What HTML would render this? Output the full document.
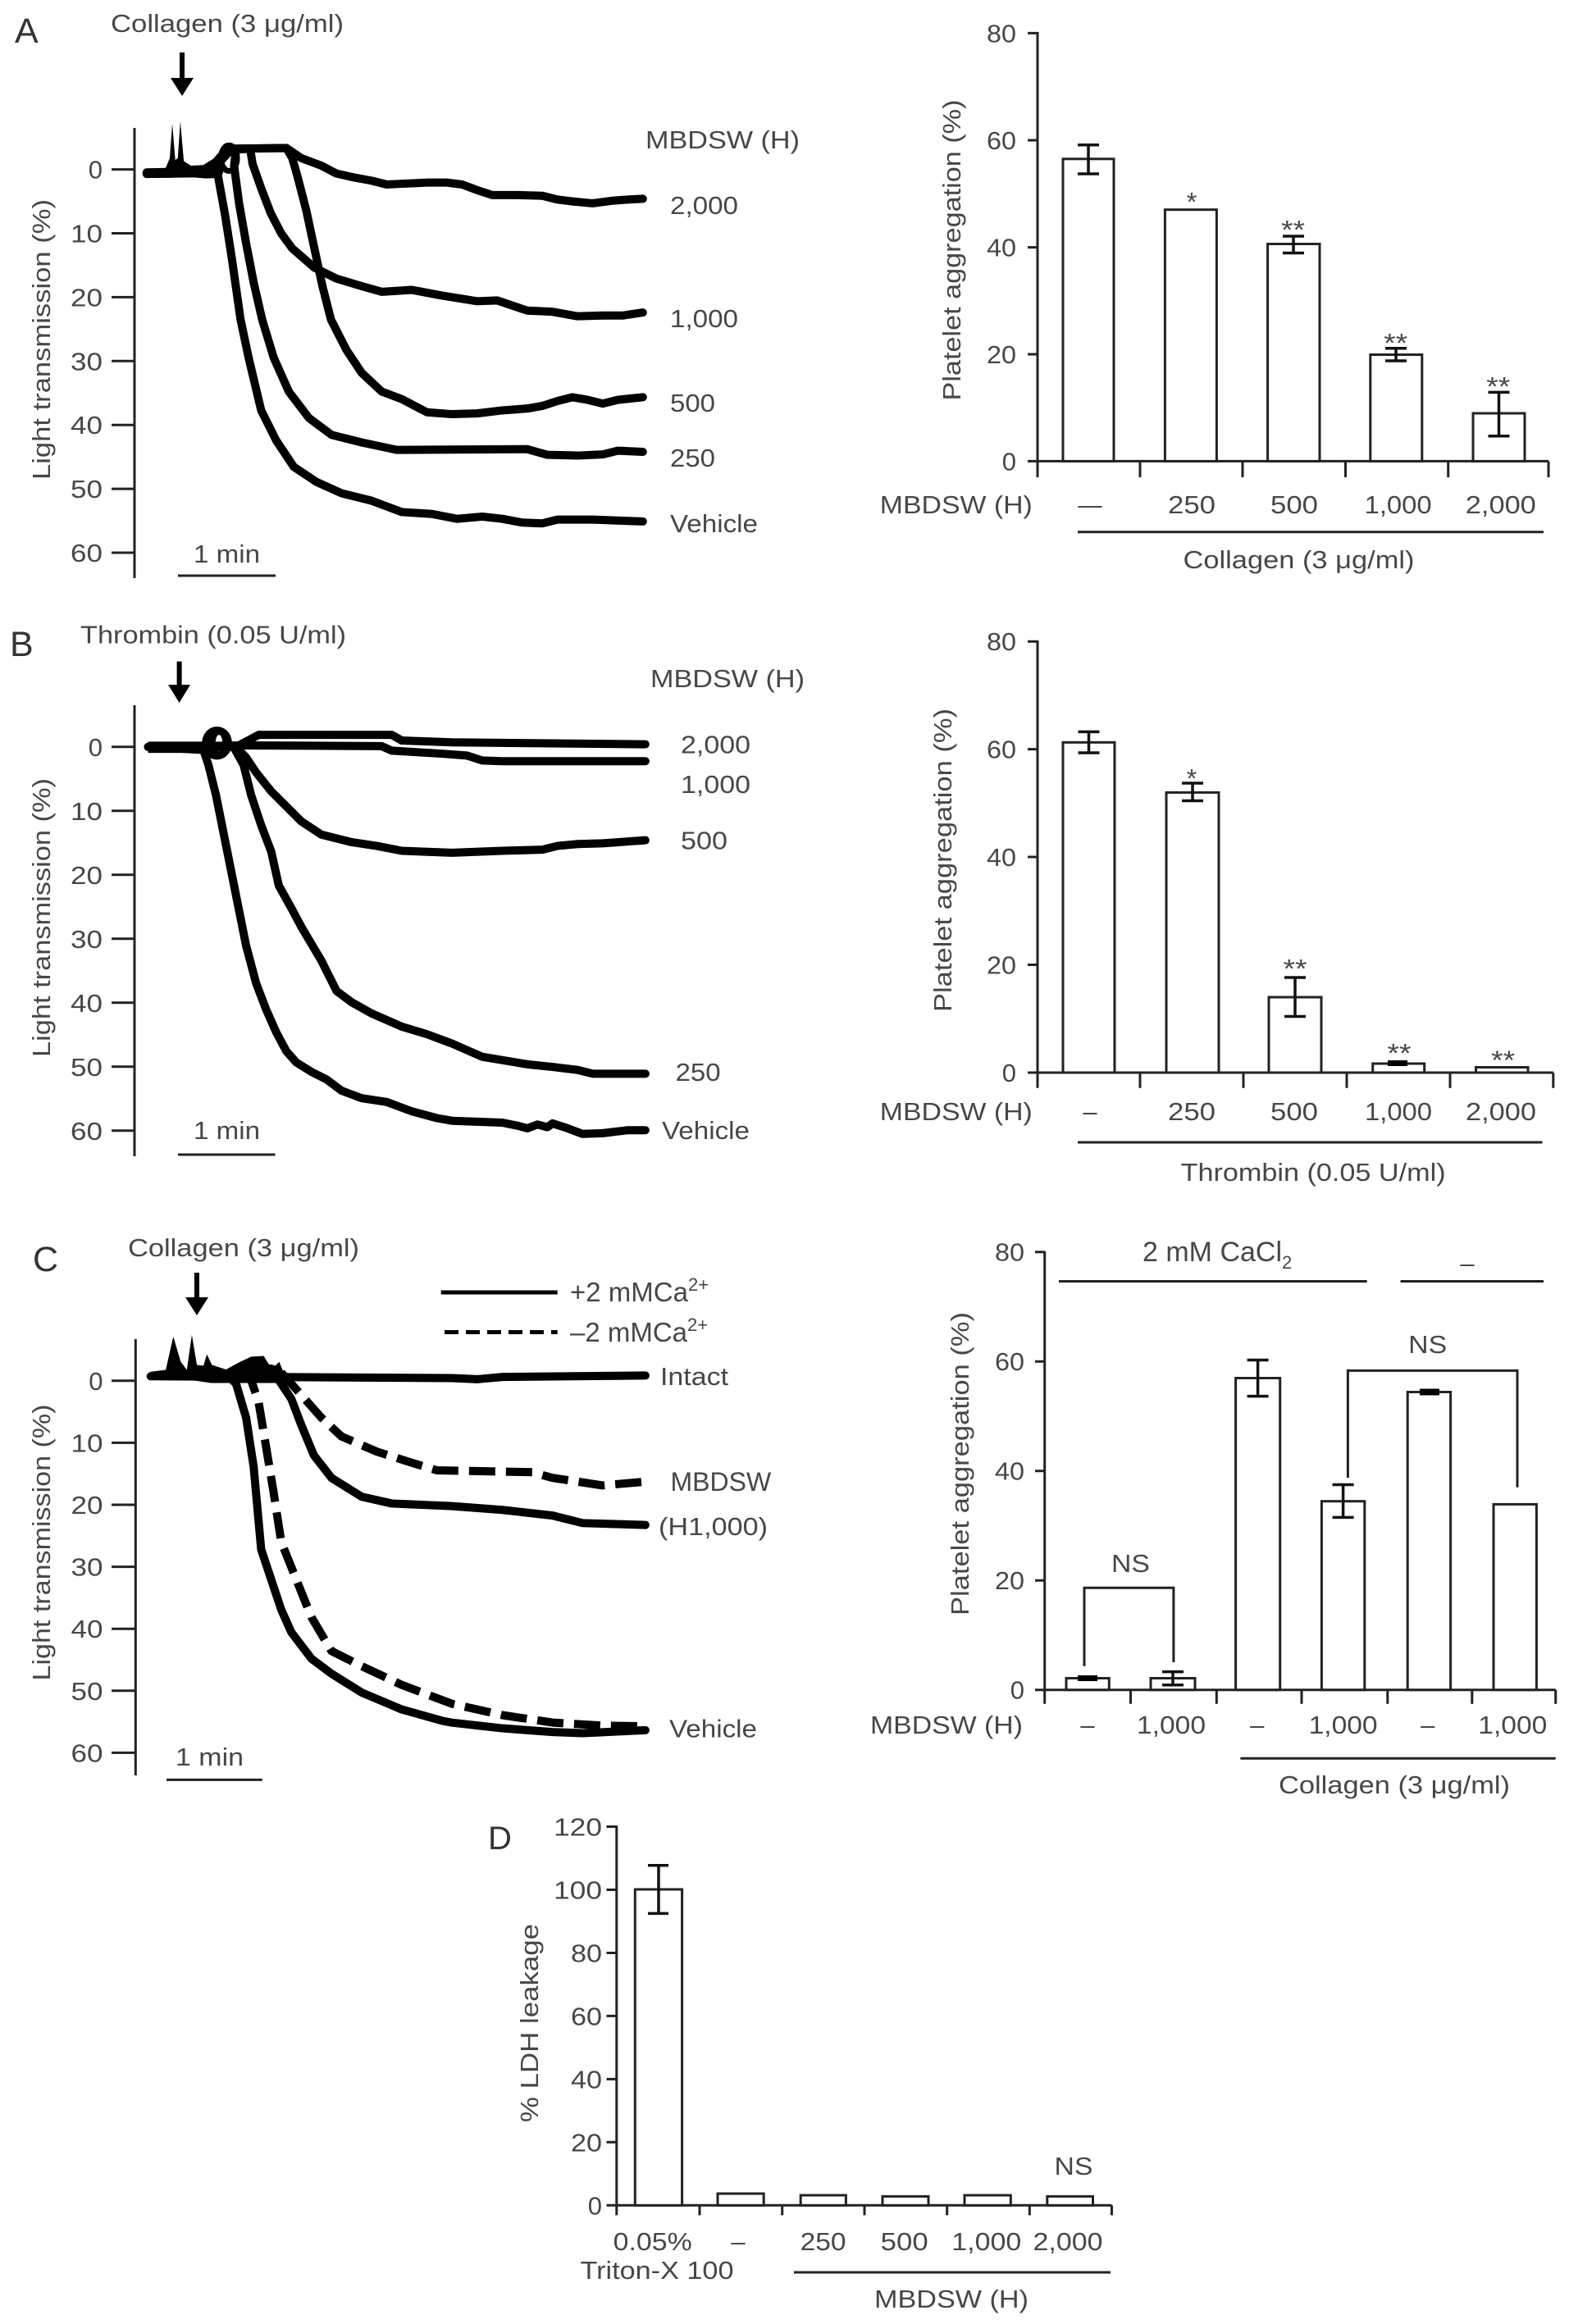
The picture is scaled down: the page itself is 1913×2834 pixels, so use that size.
<!DOCTYPE html>
<html><head><meta charset="utf-8"><style>
html,body{margin:0;padding:0;background:#fff;}
svg{display:block;}
text{font-family:"Liberation Sans",Arial,sans-serif;fill:#474747;font-size:31px;}
.ax{stroke:#222;stroke-width:3;fill:none;}
.bar{stroke:#222;stroke-width:3;fill:#fff;}
.eb{stroke:#111;stroke-width:3.5;fill:none;}
.cv{stroke:#000;stroke-width:10;fill:none;stroke-linejoin:round;stroke-linecap:round;vector-effect:non-scaling-stroke;}
.cd{stroke:#000;stroke-width:10;fill:none;stroke-linejoin:round;stroke-dasharray:32 13;}
.r{text-anchor:end;}
.m{text-anchor:middle;}
.st{font-size:32px;}
.big{font-size:43px;fill:#333;}
</style></head><body>
<svg width="1913" height="2834" viewBox="0 0 1913 2834" xmlns="http://www.w3.org/2000/svg">
<rect width="1913" height="2834" fill="#fff"/>

<!-- ================= PANEL A LEFT ================= -->
<text class="big" x="18" y="52">A</text>
<text x="135" y="39" textLength="284" lengthAdjust="spacingAndGlyphs">Collagen (3 μg/ml)</text>
<line x1="222" y1="64" x2="222" y2="100" stroke="#000" stroke-width="6"/>
<polygon points="208,95 236,95 222,117" fill="#000"/>
<path class="ax" d="M164,156V705 M136,206.6H164 M136,284.5H164 M136,362.4H164 M136,440.3H164 M136,518.2H164 M136,596.1H164 M136,674H164"/>
<text class="r" x="125" y="217.6">0</text>
<text class="r" x="125" y="295.5" textLength="39" lengthAdjust="spacingAndGlyphs">10</text>
<text class="r" x="125" y="373.4" textLength="39" lengthAdjust="spacingAndGlyphs">20</text>
<text class="r" x="125" y="451.3" textLength="39" lengthAdjust="spacingAndGlyphs">30</text>
<text class="r" x="125" y="529.2" textLength="39" lengthAdjust="spacingAndGlyphs">40</text>
<text class="r" x="125" y="607.1" textLength="39" lengthAdjust="spacingAndGlyphs">50</text>
<text class="r" x="125" y="685" textLength="39" lengthAdjust="spacingAndGlyphs">60</text>
<text class="m" transform="translate(61,414) rotate(-90)" textLength="342" lengthAdjust="spacingAndGlyphs">Light transmission (%)</text>
<text x="236" y="686" textLength="81" lengthAdjust="spacingAndGlyphs">1 min</text>
<path class="ax" d="M217,702H336"/>
<text x="787" y="181" textLength="188" lengthAdjust="spacingAndGlyphs">MBDSW (H)</text>
<text x="817" y="261" textLength="83" lengthAdjust="spacingAndGlyphs">2,000</text>
<text x="817" y="399" textLength="83" lengthAdjust="spacingAndGlyphs">1,000</text>
<text x="817" y="502" textLength="55" lengthAdjust="spacingAndGlyphs">500</text>
<text x="817" y="569" textLength="55" lengthAdjust="spacingAndGlyphs">250</text>
<text x="817" y="649" textLength="107" lengthAdjust="spacingAndGlyphs">Vehicle</text>
<g transform="scale(0.61237,0.45914)">
<path d="M290,452 L330,446 L338,420 L343,328 L349,425 L354,420 L359,322 L366,428 L380,440 L410,438 L436,430 L446,452 L440,472 L410,474 L375,470 L340,472 L300,472 Z" fill="#000"/>
<ellipse cx="456" cy="420" rx="16" ry="34" fill="none" stroke="#000" stroke-width="7" vector-effect="non-scaling-stroke"/>
<path class="cv" d="M292,462 L400,460 L425,452 L433,460 L448,570 L462,690 L479,849 L495,950 L520,1090 L550,1170 L585,1240 L630,1280 L680,1310 L740,1330 L800,1360 L860,1365 L910,1378 L960,1372 L1000,1378 L1040,1388 L1080,1390 L1110,1380 L1180,1380 L1280,1385"/>
<path class="cv" d="M292,458 L400,455 L430,430 L455,392 L470,398 L466,440 L476,540 L490,646 L505,750 L522,849 L545,950 L575,1040 L615,1110 L660,1155 L720,1175 L790,1195 L1050,1193 L1090,1208 L1150,1210 L1200,1207 L1230,1197 L1280,1200"/>
<path class="cv" d="M292,460 L420,455 L460,398 L498,395 L503,436 L520,500 L539,566 L560,620 L582,660 L626,711 L670,740 L720,760 L760,775 L820,770 L880,785 L950,800 L990,798 L1050,825 L1100,828 L1150,840 L1200,838 L1240,838 L1280,830"/>
<path class="cv" d="M292,460 L420,455 L460,395 L570,393 L582,420 L593,472 L610,560 L626,660 L642,760 L659,849 L690,930 L720,990 L760,1040 L800,1060 L850,1095 L900,1100 L950,1098 L1000,1090 L1050,1085 L1080,1078 L1110,1065 L1140,1055 L1170,1062 L1200,1072 L1230,1062 L1280,1055"/>
<path class="cv" d="M292,460 L420,455 L460,395 L570,393 L600,420 L640,440 L670,461 L700,470 L740,480 L770,490 L800,488 L850,485 L890,485 L920,490 L950,505 L980,518 L1030,518 L1080,520 L1110,530 L1140,535 L1180,540 L1220,533 L1250,530 L1280,528"/>
</g>

<!-- ================= PANEL A RIGHT ================= -->
<path class="ax" d="M1265,39V582 M1253,40.4H1265 M1253,171H1265 M1253,301.6H1265 M1253,432H1265 M1253,562.4H1888 M1390,562.4V582 M1515,562.4V582 M1640.5,562.4V582 M1765.7,562.4V582 M1888,562.4V582"/>
<text class="r" x="1239" y="51.4" textLength="36" lengthAdjust="spacingAndGlyphs">80</text>
<text class="r" x="1239" y="182" textLength="36" lengthAdjust="spacingAndGlyphs">60</text>
<text class="r" x="1239" y="312.6" textLength="36" lengthAdjust="spacingAndGlyphs">40</text>
<text class="r" x="1239" y="443" textLength="36" lengthAdjust="spacingAndGlyphs">20</text>
<text class="r" x="1239" y="573.4">0</text>
<text class="m" transform="translate(1171,305) rotate(-90)" textLength="367" lengthAdjust="spacingAndGlyphs">Platelet aggregation (%)</text>
<rect class="bar" x="1296" y="193.8" width="62" height="368.6"/>
<rect class="bar" x="1420.4" y="255.7" width="63" height="306.7"/>
<rect class="bar" x="1545.6" y="297.5" width="63.4" height="264.9"/>
<rect class="bar" x="1670.8" y="432.5" width="63" height="129.9"/>
<rect class="bar" x="1796" y="504" width="63" height="58.4"/>
<path class="eb" d="M1327,176.8V212 M1314,176.8H1340 M1314,212H1340 M1577,288V308.5 M1564,288H1590 M1564,308.5H1590 M1702,424.7V440 M1689,424.7H1715 M1689,440H1715 M1827.5,478.4V531.7 M1814.5,478.4H1840.5 M1814.5,531.7H1840.5"/>
<text class="m st" x="1453" y="257.6">*</text>
<text class="m st" x="1576.5" y="291.6" textLength="29" lengthAdjust="spacingAndGlyphs">**</text>
<text class="m st" x="1701.6" y="429.6" textLength="29" lengthAdjust="spacingAndGlyphs">**</text>
<text class="m st" x="1826.8" y="482.3" textLength="29" lengthAdjust="spacingAndGlyphs">**</text>
<text x="1072.8" y="626" textLength="186" lengthAdjust="spacingAndGlyphs">MBDSW (H)</text>
<text class="m" x="1329" y="626" textLength="29" lengthAdjust="spacingAndGlyphs">—</text>
<text class="m" x="1453" y="626" textLength="58" lengthAdjust="spacingAndGlyphs">250</text>
<text class="m" x="1578" y="626" textLength="58" lengthAdjust="spacingAndGlyphs">500</text>
<text class="m" x="1704.6" y="626" textLength="82" lengthAdjust="spacingAndGlyphs">1,000</text>
<text class="m" x="1829.8" y="626" textLength="86" lengthAdjust="spacingAndGlyphs">2,000</text>
<path class="ax" d="M1314,648.7H1882"/>
<text x="1442.5" y="693" textLength="282" lengthAdjust="spacingAndGlyphs">Collagen (3 μg/ml)</text>

<!-- ================= PANEL B LEFT ================= -->
<text class="big" x="12" y="800">B</text>
<text x="98" y="784.5" textLength="324" lengthAdjust="spacingAndGlyphs">Thrombin (0.05 U/ml)</text>
<line x1="218.6" y1="806.6" x2="218.6" y2="840" stroke="#000" stroke-width="6"/>
<polygon points="205,835 232,835 218.6,857" fill="#000"/>
<path class="ax" d="M164,860V1410 M136,910.8H164 M136,988.8H164 M136,1066.8H164 M136,1144.8H164 M136,1222.8H164 M136,1300.8H164 M136,1378.8H164"/>
<text class="r" x="125" y="921.8">0</text>
<text class="r" x="125" y="999.8" textLength="39" lengthAdjust="spacingAndGlyphs">10</text>
<text class="r" x="125" y="1077.8" textLength="39" lengthAdjust="spacingAndGlyphs">20</text>
<text class="r" x="125" y="1155.8" textLength="39" lengthAdjust="spacingAndGlyphs">30</text>
<text class="r" x="125" y="1233.8" textLength="39" lengthAdjust="spacingAndGlyphs">40</text>
<text class="r" x="125" y="1311.8" textLength="39" lengthAdjust="spacingAndGlyphs">50</text>
<text class="r" x="125" y="1389.8" textLength="39" lengthAdjust="spacingAndGlyphs">60</text>
<text class="m" transform="translate(61,1119) rotate(-90)" textLength="340" lengthAdjust="spacingAndGlyphs">Light transmission (%)</text>
<text x="236" y="1389" textLength="81" lengthAdjust="spacingAndGlyphs">1 min</text>
<path class="ax" d="M217,1408H335.6"/>
<text x="793" y="838" textLength="188" lengthAdjust="spacingAndGlyphs">MBDSW (H)</text>
<text x="830" y="918.6" textLength="85" lengthAdjust="spacingAndGlyphs">2,000</text>
<text x="830" y="966.8" textLength="85" lengthAdjust="spacingAndGlyphs">1,000</text>
<text x="830" y="1035.7" textLength="57" lengthAdjust="spacingAndGlyphs">500</text>
<text x="823.6" y="1318" textLength="55" lengthAdjust="spacingAndGlyphs">250</text>
<text x="807" y="1389" textLength="107" lengthAdjust="spacingAndGlyphs">Vehicle</text>
<g transform="translate(0,740) scale(0.61237,0.45914)">
<path d="M295,358 L405,358 L405,388 L295,388 Z" fill="#000"/>
<ellipse cx="432" cy="362" rx="30" ry="44" fill="#000"/>
<ellipse cx="436" cy="362" rx="7" ry="22" fill="#fff"/>
<path class="cv" d="M295,372 L470,372 L515,340 L780,340 L800,355 L900,360 L1285,365"/>
<path class="cv" d="M295,372 L480,368 L760,370 L780,382 L880,390 L930,395 L960,408 L1000,410 L1285,410"/>
<path class="cv" d="M295,372 L470,372 L490,400 L510,440 L540,490 L570,530 L600,570 L640,605 L700,625 L750,635 L800,648 L900,653 L1000,648 L1080,645 L1110,635 L1150,630 L1200,628 L1285,620"/>
<path class="cv" d="M295,372 L465,372 L485,420 L500,500 L520,580 L540,650 L555,740 L580,800 L600,850 L640,940 L670,1020 L700,1050 L740,1080 L800,1115 L850,1135 L900,1160 L960,1195 L1050,1215 L1100,1222 L1150,1230 L1180,1240 L1285,1240"/>
<path class="cv" d="M295,372 L405,380 L415,420 L430,500 L445,600 L460,700 L475,800 L490,900 L510,1000 L530,1070 L550,1130 L570,1180 L590,1210 L620,1235 L650,1255 L680,1285 L720,1305 L770,1315 L820,1340 L870,1358 L900,1365 L1000,1370 L1030,1378 L1050,1385 L1070,1375 L1090,1382 L1100,1372 L1130,1385 L1160,1400 L1200,1398 L1250,1390 L1285,1390"/>
</g>

<!-- ================= PANEL B RIGHT ================= -->
<path class="ax" d="M1265,781V1326.8 M1253,782.2H1265 M1253,913.6H1265 M1253,1045H1265 M1253,1176.5H1265 M1253,1308H1893.8 M1390,1308V1326.8 M1516,1308V1326.8 M1642,1308V1326.8 M1768,1308V1326.8 M1893.8,1308V1326.8"/>
<text class="r" x="1239" y="793.2" textLength="36" lengthAdjust="spacingAndGlyphs">80</text>
<text class="r" x="1239" y="924.6" textLength="36" lengthAdjust="spacingAndGlyphs">60</text>
<text class="r" x="1239" y="1056" textLength="36" lengthAdjust="spacingAndGlyphs">40</text>
<text class="r" x="1239" y="1187.5" textLength="36" lengthAdjust="spacingAndGlyphs">20</text>
<text class="r" x="1239" y="1319">0</text>
<text class="m" transform="translate(1160,1049) rotate(-90)" textLength="370" lengthAdjust="spacingAndGlyphs">Platelet aggregation (%)</text>
<rect class="bar" x="1296" y="905.3" width="63" height="402.7"/>
<rect class="bar" x="1422" y="966.4" width="64" height="341.6"/>
<rect class="bar" x="1547" y="1216" width="64" height="92"/>
<rect class="bar" x="1673.7" y="1297" width="63" height="11"/>
<rect class="bar" x="1799.5" y="1301.5" width="63.5" height="6.5"/>
<path class="eb" d="M1327.5,892.4V918 M1314.5,892.4H1340.5 M1314.5,918H1340.5 M1454,955V976.5 M1441,955H1467 M1441,976.5H1467 M1579,1192V1239.5 M1566,1192H1592 M1566,1239.5H1592"/>
<rect x="1692" y="1293" width="24" height="7" fill="#000"/>
<text class="m st" x="1453" y="960.6">*</text>
<text class="m st" x="1579" y="1192.6" textLength="29" lengthAdjust="spacingAndGlyphs">**</text>
<text class="m st" x="1706" y="1295.6" textLength="29" lengthAdjust="spacingAndGlyphs">**</text>
<text class="m st" x="1832.6" y="1304" textLength="29" lengthAdjust="spacingAndGlyphs">**</text>
<text x="1072.8" y="1366" textLength="186" lengthAdjust="spacingAndGlyphs">MBDSW (H)</text>
<text class="m" x="1329" y="1366">–</text>
<text class="m" x="1453" y="1366" textLength="58" lengthAdjust="spacingAndGlyphs">250</text>
<text class="m" x="1578" y="1366" textLength="58" lengthAdjust="spacingAndGlyphs">500</text>
<text class="m" x="1705" y="1366" textLength="82" lengthAdjust="spacingAndGlyphs">1,000</text>
<text class="m" x="1830" y="1366" textLength="86" lengthAdjust="spacingAndGlyphs">2,000</text>
<path class="ax" d="M1314,1393H1880.5"/>
<text x="1439.6" y="1440" textLength="323" lengthAdjust="spacingAndGlyphs">Thrombin (0.05 U/ml)</text>

<!-- ================= PANEL C LEFT ================= -->
<text class="big" x="40" y="1550">C</text>
<text x="156" y="1532" textLength="282" lengthAdjust="spacingAndGlyphs">Collagen (3 μg/ml)</text>
<line x1="240" y1="1552" x2="240" y2="1587" stroke="#000" stroke-width="6"/>
<polygon points="226,1582 254,1582 240,1604" fill="#000"/>
<line x1="537.7" y1="1576" x2="679.7" y2="1576" stroke="#000" stroke-width="5"/>
<line x1="542" y1="1624.5" x2="679.7" y2="1624.5" stroke="#000" stroke-width="5" stroke-dasharray="17 9"/>
<text x="695" y="1587" style="font-size:33px">+2 mMCa<tspan dy="-13" style="font-size:22px">2+</tspan></text>
<text x="695" y="1636" style="font-size:33px">–2 mMCa<tspan dy="-13" style="font-size:22px">2+</tspan></text>
<path class="ax" d="M165.3,1633V2165 M136,1683.8H165.3 M136,1759.4H165.3 M136,1835H165.3 M136,1910.6H165.3 M136,1986.2H165.3 M136,2061.8H165.3 M136,2137.4H165.3"/>
<text class="r" x="125.5" y="1694.8">0</text>
<text class="r" x="125.5" y="1770.4" textLength="39" lengthAdjust="spacingAndGlyphs">10</text>
<text class="r" x="125.5" y="1846" textLength="39" lengthAdjust="spacingAndGlyphs">20</text>
<text class="r" x="125.5" y="1921.6" textLength="39" lengthAdjust="spacingAndGlyphs">30</text>
<text class="r" x="125.5" y="1997.2" textLength="39" lengthAdjust="spacingAndGlyphs">40</text>
<text class="r" x="125.5" y="2072.8" textLength="39" lengthAdjust="spacingAndGlyphs">50</text>
<text class="r" x="125.5" y="2148.4" textLength="39" lengthAdjust="spacingAndGlyphs">60</text>
<text class="m" transform="translate(61,1881) rotate(-90)" textLength="337" lengthAdjust="spacingAndGlyphs">Light transmission (%)</text>
<text x="214" y="2153" textLength="83" lengthAdjust="spacingAndGlyphs">1 min</text>
<path class="ax" d="M203,2170.4H319.7"/>
<text x="805" y="1689" textLength="83" lengthAdjust="spacingAndGlyphs">Intact</text>
<text x="817.5" y="1818" style="font-size:32px">MBDSW</text>
<text x="803" y="1872" textLength="133" lengthAdjust="spacingAndGlyphs">(H1,000)</text>
<text x="816" y="2118.5" textLength="107" lengthAdjust="spacingAndGlyphs">Vehicle</text>
<g transform="translate(0,1490) scale(0.61237,0.45914)">
<path d="M300,398 L330,393 L345,305 L360,372 L372,393 L382,300 L392,380 L405,382 L412,352 L422,380 L450,392 L478,372 L500,358 L525,356 L535,378 L548,382 L556,372 L566,404 L560,428 L480,428 L420,428 L380,420 L330,418 L300,418 Z" fill="#000"/>
<path class="cv" d="M300,410 L900,415 L950,418 L1000,412 L1285,408"/>
<path class="cv" d="M480,410 L540,390 L560,430 L580,470 L600,540 L625,620 L660,680 L720,730 L780,748 L900,755 L1000,765 L1100,780 L1160,800 L1285,805"/>
<path class="cv" d="M455,410 L470,430 L490,520 L505,650 L520,870 L540,950 L560,1030 L580,1090 L620,1160 L660,1200 L720,1250 L800,1295 L880,1325 L900,1330 L1000,1345 L1100,1355 L1160,1358 L1285,1350"/>
</g>
<path class="cd" d="M342.9,1673.7 L355.2,1687.4 L367.4,1701.2 L391.9,1728.8 L416.4,1751.7 L459.3,1770.1 L502.1,1783.8 L532.8,1793 L649.1,1795.3 L673.6,1802.2 L734.8,1811.4 L786.9,1806.8"/>
<path class="cd" d="M293.9,1673.7 L306.2,1682.8 L315.4,1710.4 L324.6,1765.5 L333.7,1820.6 L342.9,1880.3 L361.3,1926.2 L379.7,1972.1 L404.2,2013.4 L440.9,2031.8 L489.9,2054.7 L551.1,2077.7 L612.4,2091.5 L673.6,2100.6 L734.8,2104.3 L786.9,2105.2"/>

<!-- ================= PANEL C RIGHT ================= -->
<path class="ax" d="M1273.7,1525.8V2077.7 M1262,1526.7H1273.7 M1262,1660.2H1273.7 M1262,1793.7H1273.7 M1262,1927.2H1273.7 M1262,2060.7H1896.7 M1378.5,2060.7V2077.7 M1483.3,2060.7V2077.7 M1587,2060.7V2077.7 M1691.8,2060.7V2077.7 M1794.8,2060.7V2077.7 M1896.7,2060.7V2077.7"/>
<text class="r" x="1249" y="1537.7" textLength="36" lengthAdjust="spacingAndGlyphs">80</text>
<text class="r" x="1249" y="1671.2" textLength="36" lengthAdjust="spacingAndGlyphs">60</text>
<text class="r" x="1249" y="1804.7" textLength="36" lengthAdjust="spacingAndGlyphs">40</text>
<text class="r" x="1249" y="1938.2" textLength="36" lengthAdjust="spacingAndGlyphs">20</text>
<text class="r" x="1249" y="2071.7">0</text>
<text class="m" transform="translate(1181,1785) rotate(-90)" textLength="370" lengthAdjust="spacingAndGlyphs">Platelet aggregation (%)</text>
<rect class="bar" x="1300" y="2046.5" width="52.3" height="14.2"/>
<rect class="bar" x="1403" y="2046.5" width="54" height="14.2"/>
<rect class="bar" x="1506.6" y="1680.5" width="54.1" height="380.2"/>
<rect class="bar" x="1611.4" y="1830.7" width="52.4" height="230"/>
<rect class="bar" x="1716.2" y="1697.5" width="52.4" height="363.2"/>
<rect class="bar" x="1821" y="1834.4" width="52.4" height="226.3"/>
<rect x="1314" y="2043" width="24" height="7" fill="#000"/>
<rect x="1731" y="1693.5" width="24" height="8" fill="#000"/>
<path class="eb" d="M1430,2038.6V2054.7 M1417,2038.6H1443 M1417,2054.7H1443 M1533.6,1658.5V1702.6 M1520.6,1658.5H1546.6 M1520.6,1702.6H1546.6 M1637.6,1810.5V1850.4 M1624.6,1810.5H1650.6 M1624.6,1850.4H1650.6"/>
<path class="ax" d="M1322,2031.8V1936.3H1430.9V2027 M1643.4,1802V1671.4H1850V1813.7"/>
<text class="m" x="1378.5" y="1917" textLength="47" lengthAdjust="spacingAndGlyphs">NS</text>
<text class="m" x="1740.7" y="1650" textLength="47" lengthAdjust="spacingAndGlyphs">NS</text>
<text x="1393" y="1538" style="font-size:34px">2 mM CaCl<tspan dy="9" style="font-size:22px">2</tspan></text>
<path class="ax" d="M1291,1562.5H1666.7 M1707.5,1562.5H1882"/>
<text class="m" x="1789" y="1551">–</text>
<text x="1061" y="2114" textLength="186" lengthAdjust="spacingAndGlyphs">MBDSW (H)</text>
<text class="m" x="1326" y="2114">–</text>
<text class="m" x="1428" y="2114" textLength="84" lengthAdjust="spacingAndGlyphs">1,000</text>
<text class="m" x="1532.8" y="2114">–</text>
<text class="m" x="1637.6" y="2114" textLength="84" lengthAdjust="spacingAndGlyphs">1,000</text>
<text class="m" x="1740.7" y="2114">–</text>
<text class="m" x="1844.3" y="2114" textLength="84" lengthAdjust="spacingAndGlyphs">1,000</text>
<path class="ax" d="M1512.4,2144.3H1896.7"/>
<text x="1559" y="2187" textLength="282" lengthAdjust="spacingAndGlyphs">Collagen (3 μg/ml)</text>

<!-- ================= PANEL D ================= -->
<text class="big" x="595" y="2255" style="font-size:40px">D</text>
<path class="ax" d="M751.8,2226.3V2701.4 M739.5,2227.5H751.8 M739.5,2304.5H751.8 M739.5,2381.5H751.8 M739.5,2458.4H751.8 M739.5,2535.4H751.8 M739.5,2612.3H751.8 M739.5,2689.3H1355.5 M853,2689.3V2701.4 M953.7,2689.3V2701.4 M1054,2689.3V2701.4 M1154.7,2689.3V2701.4 M1255.3,2689.3V2701.4 M1355.5,2689.3V2701.4"/>
<text class="r" x="734" y="2238.5" textLength="59" lengthAdjust="spacingAndGlyphs">120</text>
<text class="r" x="734" y="2315.5" textLength="59" lengthAdjust="spacingAndGlyphs">100</text>
<text class="r" x="734" y="2392.5" textLength="38" lengthAdjust="spacingAndGlyphs">80</text>
<text class="r" x="734" y="2469.4" textLength="38" lengthAdjust="spacingAndGlyphs">60</text>
<text class="r" x="734" y="2546.4" textLength="38" lengthAdjust="spacingAndGlyphs">40</text>
<text class="r" x="734" y="2623.3" textLength="38" lengthAdjust="spacingAndGlyphs">20</text>
<text class="r" x="734" y="2700.3">0</text>
<text class="m" transform="translate(656,2467) rotate(-90)" textLength="242" lengthAdjust="spacingAndGlyphs">% LDH leakage</text>
<rect class="bar" x="774.3" y="2304" width="57.3" height="385.3"/>
<rect class="bar" x="875" y="2675" width="56.2" height="14.3"/>
<rect class="bar" x="976.2" y="2677" width="55.2" height="12.3"/>
<rect class="bar" x="1076" y="2678.4" width="56" height="10.9"/>
<rect class="bar" x="1176" y="2677" width="56.3" height="12.3"/>
<rect class="bar" x="1276.8" y="2678.4" width="55.7" height="10.9"/>
<path class="eb" d="M803,2274.8V2333.4 M790,2274.8H815 M790,2333.4H815"/>
<text class="m" x="1309" y="2652" textLength="47" lengthAdjust="spacingAndGlyphs">NS</text>
<text class="m" x="795.7" y="2744" textLength="96" lengthAdjust="spacingAndGlyphs">0.05%</text>
<text class="m" x="900" y="2744">–</text>
<text class="m" x="1003.6" y="2744" textLength="56" lengthAdjust="spacingAndGlyphs">250</text>
<text class="m" x="1102.7" y="2744" textLength="58" lengthAdjust="spacingAndGlyphs">500</text>
<text class="m" x="1202.8" y="2744" textLength="85" lengthAdjust="spacingAndGlyphs">1,000</text>
<text class="m" x="1302" y="2744" textLength="85" lengthAdjust="spacingAndGlyphs">2,000</text>
<text class="m" x="801" y="2779" textLength="187" lengthAdjust="spacingAndGlyphs">Triton-X 100</text>
<path class="ax" d="M968,2771H1354"/>
<text x="1066" y="2814" textLength="188" lengthAdjust="spacingAndGlyphs">MBDSW (H)</text>
</svg>
</body></html>
